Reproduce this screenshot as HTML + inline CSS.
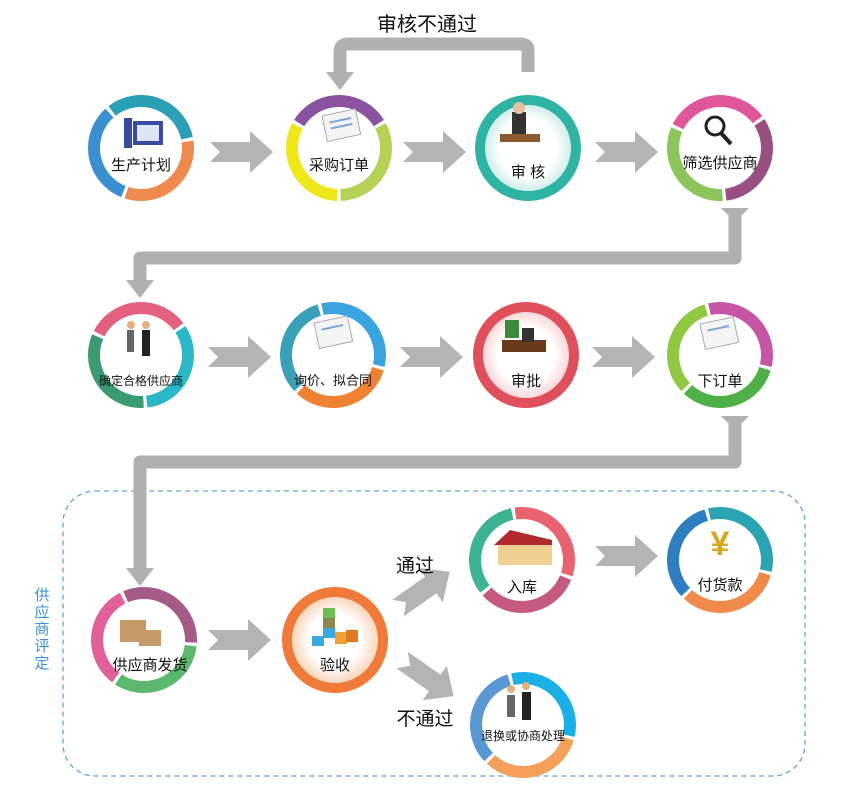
<!DOCTYPE html>
<html><head><meta charset="utf-8"><style>
body{margin:0;background:#fff}
svg{display:block;font-family:"Liberation Sans","Noto Sans CJK SC",sans-serif}
</style></head><body>
<svg width="844" height="801" viewBox="0 0 844 801" xmlns="http://www.w3.org/2000/svg">
<defs>
<g id="chev"><polygon points="0,-10 40,-10 40,-21 63,0 40,21 40,10 0,10 10,0" fill="#b4b4b4"/></g>
<radialGradient id="gt" cx="0.5" cy="0.5" r="0.5"><stop offset="0.6" stop-color="#fff"/><stop offset="1" stop-color="#bfe8e2"/></radialGradient>
<radialGradient id="gr" cx="0.5" cy="0.5" r="0.5"><stop offset="0.6" stop-color="#fff"/><stop offset="1" stop-color="#f8c8cc"/></radialGradient>
<radialGradient id="go" cx="0.5" cy="0.5" r="0.5"><stop offset="0.55" stop-color="#fff"/><stop offset="1" stop-color="#f8c8a8"/></radialGradient>
</defs>

<rect x="63" y="491" width="742" height="285" rx="32" fill="none" stroke="#5ea5e0" stroke-width="1.3" stroke-dasharray="5,4"/>
<text x="42" y="600" font-size="15" fill="#3d8fd6" text-anchor="middle"><tspan x="42" dy="0">供</tspan><tspan x="42" dy="17">应</tspan><tspan x="42" dy="17">商</tspan><tspan x="42" dy="17">评</tspan><tspan x="42" dy="17">定</tspan></text>

<g fill="none" stroke="#b0b0b0" stroke-width="13" stroke-linejoin="round">
<path d="M528,72 V50 Q528,44 520,44 H348 Q340,44 340,52 V72"/>
<path d="M735,212 V258 H140 V282"/>
<path d="M735,420 V462 H140 V572"/>
</g>
<g fill="#b0b0b0">
<polygon points="326,72 354,72 340,90"/>
<polygon points="126,280 154,280 140,298"/>
<polygon points="126,568 154,568 140,586"/>
<polygon points="721,208 749,208 735,222"/>
<polygon points="721,416 749,416 735,430"/>
</g>
<text x="427" y="31" font-size="20" text-anchor="middle" fill="#111">审核不通过</text>

<use href="#chev" x="210" y="152"/>
<use href="#chev" x="403" y="152"/>
<use href="#chev" x="595" y="152"/>
<use href="#chev" x="208" y="357"/>
<use href="#chev" x="400" y="357"/>
<use href="#chev" x="592" y="357"/>
<use href="#chev" x="208" y="640"/>
<use href="#chev" x="595" y="556"/>
<use href="#chev" transform="translate(398,608) rotate(-35)"/>
<use href="#chev" transform="translate(402,660) rotate(35)"/>
<text x="415" y="572" font-size="19" text-anchor="middle" fill="#111">通过</text>
<text x="425" y="725" font-size="19" text-anchor="middle" fill="#111">不通过</text>

<g fill="none" stroke-width="12">
<circle cx="141" cy="148" r="47" stroke="#2a9fb5" stroke-dasharray="95 201" transform="rotate(-128 141 148)"/>
<circle cx="141" cy="148" r="47" stroke="#ef8a4e" stroke-dasharray="95 201" transform="rotate(-8 141 148)"/>
<circle cx="141" cy="148" r="47" stroke="#3b8fd0" stroke-dasharray="95 201" transform="rotate(112 141 148)"/>
<circle cx="339" cy="148" r="47" stroke="#8b52a0" stroke-dasharray="95 201" transform="rotate(-148 339 148)"/>
<circle cx="339" cy="148" r="47" stroke="#b4d356" stroke-dasharray="95 201" transform="rotate(-28 339 148)"/>
<circle cx="339" cy="148" r="47" stroke="#eee81a" stroke-dasharray="95 201" transform="rotate(92 339 148)"/>
<circle cx="720" cy="148" r="47" stroke="#e0569a" stroke-dasharray="95 201" transform="rotate(-153 720 148)"/>
<circle cx="720" cy="148" r="47" stroke="#9a4f82" stroke-dasharray="95 201" transform="rotate(-33 720 148)"/>
<circle cx="720" cy="148" r="47" stroke="#8cc55c" stroke-dasharray="95 201" transform="rotate(87 720 148)"/>
<circle cx="141" cy="355" r="47" stroke="#e3607e" stroke-dasharray="95 201" transform="rotate(-153 141 355)"/>
<circle cx="141" cy="355" r="47" stroke="#2ab8c8" stroke-dasharray="95 201" transform="rotate(-33 141 355)"/>
<circle cx="141" cy="355" r="47" stroke="#3a9a72" stroke-dasharray="95 201" transform="rotate(87 141 355)"/>
<circle cx="333" cy="355" r="47" stroke="#3aa3e0" stroke-dasharray="95 201" transform="rotate(-103 333 355)"/>
<circle cx="333" cy="355" r="47" stroke="#ef8232" stroke-dasharray="95 201" transform="rotate(17 333 355)"/>
<circle cx="333" cy="355" r="47" stroke="#3aa0b8" stroke-dasharray="95 201" transform="rotate(137 333 355)"/>
<circle cx="720" cy="355" r="47" stroke="#c655a5" stroke-dasharray="95 201" transform="rotate(-103 720 355)"/>
<circle cx="720" cy="355" r="47" stroke="#4fb048" stroke-dasharray="95 201" transform="rotate(17 720 355)"/>
<circle cx="720" cy="355" r="47" stroke="#90c844" stroke-dasharray="95 201" transform="rotate(137 720 355)"/>
<circle cx="522" cy="560" r="47" stroke="#e8636f" stroke-dasharray="95 201" transform="rotate(-98 522 560)"/>
<circle cx="522" cy="560" r="47" stroke="#c45a80" stroke-dasharray="95 201" transform="rotate(22 522 560)"/>
<circle cx="522" cy="560" r="47" stroke="#3db394" stroke-dasharray="95 201" transform="rotate(142 522 560)"/>
<circle cx="720" cy="560" r="47" stroke="#2aa3b3" stroke-dasharray="95 201" transform="rotate(-103 720 560)"/>
<circle cx="720" cy="560" r="47" stroke="#f08a4a" stroke-dasharray="95 201" transform="rotate(17 720 560)"/>
<circle cx="720" cy="560" r="47" stroke="#2f7fc0" stroke-dasharray="95 201" transform="rotate(137 720 560)"/>
<circle cx="144" cy="640" r="47" stroke="#a55a88" stroke-dasharray="95 201" transform="rotate(-113 144 640)"/>
<circle cx="144" cy="640" r="47" stroke="#5cb86e" stroke-dasharray="95 201" transform="rotate(7 144 640)"/>
<circle cx="144" cy="640" r="47" stroke="#e2609a" stroke-dasharray="95 201" transform="rotate(127 144 640)"/>
<circle cx="523" cy="725" r="47" stroke="#1ab0e6" stroke-dasharray="95 201" transform="rotate(-103 523 725)"/>
<circle cx="523" cy="725" r="47" stroke="#f4a05a" stroke-dasharray="95 201" transform="rotate(17 523 725)"/>
<circle cx="523" cy="725" r="47" stroke="#5a98d4" stroke-dasharray="95 201" transform="rotate(137 523 725)"/>
</g>
<circle cx="528" cy="148" r="48" fill="url(#gt)" stroke="#2fb3a3" stroke-width="10"/>
<circle cx="526" cy="355" r="48" fill="url(#gr)" stroke="#e0505c" stroke-width="10"/>
<circle cx="335" cy="640" r="48" fill="url(#go)" stroke="#ef7a3a" stroke-width="10"/>

<g>
<rect x="124" y="118" width="8" height="30" fill="#3a4aa0"/><rect x="133" y="121" width="30" height="24" fill="#3a4aa0"/><rect x="137" y="125" width="22" height="16" fill="#dde4f5"/>
<g transform="translate(322,116) rotate(-12)"><rect width="34" height="26" fill="#f4f4f4" stroke="#aaa"/><line x1="6" y1="8" x2="28" y2="8" stroke="#7aa8d8" stroke-width="2"/><line x1="6" y1="14" x2="28" y2="14" stroke="#7aa8d8" stroke-width="2"/></g>
<rect x="512" y="112" width="14" height="22" fill="#333"/><circle cx="519" cy="108" r="6" fill="#e8c0a0"/><rect x="500" y="134" width="40" height="8" fill="#8a5a30"/>
<circle cx="715" cy="126" r="9" fill="none" stroke="#222" stroke-width="3"/><line x1="721" y1="133" x2="731" y2="144" stroke="#222" stroke-width="4"/>
<rect x="127" y="330" width="7" height="22" fill="#666"/><rect x="142" y="330" width="8" height="26" fill="#222"/><circle cx="131" cy="325" r="4" fill="#e0b080"/><circle cx="146" cy="325" r="4" fill="#e0b080"/>
<g transform="translate(314,323) rotate(-12)"><rect width="34" height="26" fill="#f4f4f4" stroke="#aaa"/><line x1="6" y1="8" x2="28" y2="8" stroke="#7aa8d8" stroke-width="2"/></g>
<rect x="502" y="340" width="44" height="12" fill="#6a3a1a"/><rect x="505" y="320" width="14" height="18" fill="#3a8a3a"/><rect x="522" y="328" width="12" height="14" fill="#333"/>
<g transform="translate(700,324) rotate(-12)"><rect width="34" height="26" fill="#f4f4f4" stroke="#aaa"/><line x1="6" y1="8" x2="28" y2="8" stroke="#7aa8d8" stroke-width="2"/></g>
<polygon points="494,545 510,530 552,540 552,548" fill="#b02a30"/><rect x="498" y="545" width="54" height="20" fill="#f0d090"/>
<text x="720" y="555" font-size="34" font-weight="bold" text-anchor="middle" fill="#d4a820">¥</text>
<rect x="120" y="620" width="26" height="22" fill="#c69a68"/><rect x="139" y="630" width="22" height="16" fill="#c69a68"/>
<rect x="323" y="608" width="12" height="10" fill="#6cc050"/><rect x="323" y="618" width="12" height="10" fill="#8a8a50"/><rect x="323" y="628" width="12" height="10" fill="#3ca8e0"/><rect x="312" y="636" width="12" height="10" fill="#3ca8e0"/><rect x="335" y="632" width="12" height="12" fill="#f0a030"/><rect x="346" y="630" width="12" height="12" fill="#e07820"/>
<rect x="507" y="695" width="8" height="22" fill="#666"/><rect x="522" y="692" width="9" height="28" fill="#222"/><circle cx="511" cy="689" r="4" fill="#e0b080"/><circle cx="526" cy="686" r="4" fill="#e0b080"/>
</g>

<g font-size="15" fill="#111" text-anchor="middle">
<text x="141" y="170">生产计划</text>
<text x="339" y="170">采购订单</text>
<text x="528" y="177">审 核</text>
<text x="720" y="168">筛选供应商</text>
<text x="141" y="385" font-size="12">确定合格供应商</text>
<text x="333" y="385" font-size="13">询价、拟合同</text>
<text x="526" y="386">审批</text>
<text x="720" y="386">下订单</text>
<text x="522" y="592">入库</text>
<text x="720" y="590">付货款</text>
<text x="150" y="670">供应商发货</text>
<text x="335" y="670">验收</text>
<text x="523" y="740" font-size="12">退换或协商处理</text>
</g>
</svg>
</body></html>
